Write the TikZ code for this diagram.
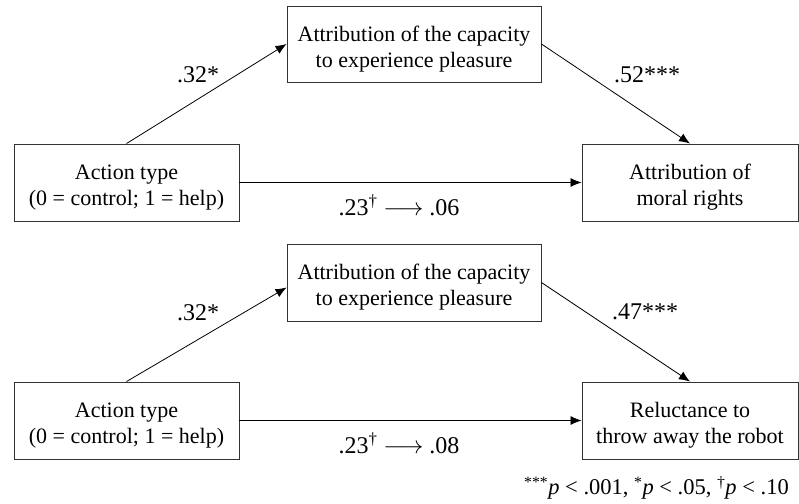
\documentclass[tikz,border=0pt]{standalone}
\usepackage{fontspec}
\setmainfont{Liberation Serif}
\usetikzlibrary{arrows.meta}
\newcommand{\topstrut}{\rule{0pt}{25pt}}
\begin{document}
\begin{tikzpicture}[x=1pt,y=-1pt,
  box/.style={draw=black!80, line width=0.9pt, rectangle, align=center, inner sep=0pt,
    font=\fontsize{22}{26}\selectfont},
  conn/.style={line width=0.8pt, -{Latex[length=11pt,width=9pt]}},
  lbl/.style={font=\fontsize{24}{26}\selectfont, inner sep=0pt},
  note/.style={font=\fontsize{22.5}{25}\selectfont, inner sep=0pt}]
\useasboundingbox (0,0) rectangle (799,503);
% top panel
\node[box, minimum width=225pt, minimum height=77pt] (act1) at (126.5,182.5) {\topstrut Action type\\(0 = control; 1 = help)};
\node[box, minimum width=254pt, minimum height=76pt] (med1) at (414,44) {\topstrut Attribution of the capacity\\to experience pleasure};
\node[box, minimum width=216pt, minimum height=77pt] (out1) at (690,182.5) {\topstrut Attribution of\\moral rights};
\draw[conn] (act1.north) -- (med1.west);
\draw[conn] (med1.east) -- (out1.north);
\draw[conn] (act1.east) -- (out1.west);
\node[lbl] (l1a) at (198,75) {.32*};
\node[lbl] (l1b) at (647,75) {.52***};
\node[lbl] (l1c) at (399,205) {.23\textsuperscript{†} $\longrightarrow$ .06};
% bottom panel
\node[box, minimum width=225pt, minimum height=77pt] (act2) at (126.5,420.5) {\topstrut Action type\\(0 = control; 1 = help)};
\node[box, minimum width=254pt, minimum height=77pt] (med2) at (414,282.5) {\topstrut Attribution of the capacity\\to experience pleasure};
\node[box, minimum width=216pt, minimum height=77pt] (out2) at (690,420.5) {\topstrut Reluctance to\\throw away the robot};
\draw[conn] (act2.north) -- ([yshift=-5pt]med2.west);
\draw[conn] (med2.east) -- (out2.north);
\draw[conn] (act2.east) -- (out2.west);
\node[lbl] (l2a) at (198,313) {.32*};
\node[lbl] (l2b) at (645,312) {.47***};
\node[lbl] (l2c) at (399,443) {.23\textsuperscript{†} $\longrightarrow$ .08};
% footnote
\node[note, anchor=east] (fn) at (789,488) {\textsuperscript{***}\textit{p} < .001, \textsuperscript{*}\textit{p} < .05, \textsuperscript{†}\textit{p} < .10};
\end{tikzpicture}
\end{document}
